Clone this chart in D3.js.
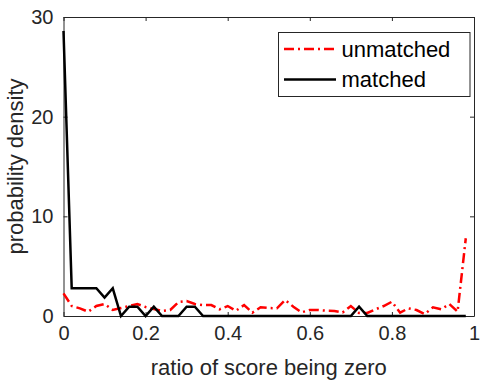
<!DOCTYPE html>
<html>
<head>
<meta charset="utf-8">
<script src="https://cdn.jsdelivr.net/npm/d3@7"></script>
<style>
  body { margin: 0; background: #fff; }
  text { font-family: "Liberation Sans", Arial, sans-serif; fill: #262626; }
</style>
</head>
<body>
<div id="chart"></div>
<script>
// bin positions (ratio of score being zero)
const bins = d3.range(50).map((i) => +(i * 0.02).toFixed(2));
// unmatched density per bin
const unmatched = [2.27, 1.0, 0.77, 0.43, 1.0, 1.2, 0.6, 0.8, 1.0, 1.2,
  0.9, 0.7, 0.5, 0.6, 1.4, 1.5, 1.2, 1.1, 1.1, 0.67,
  1.0, 0.53, 1.1, 0.33, 0.87, 0.8, 0.77, 1.6, 0.93, 0.37,
  0.6, 0.6, 0.53, 0.5, 0.35, 1.0, 0.3, 0.3, 0.67, 1.0,
  1.43, 0.33, 0.77, 0.6, 0.2, 0.87, 0.67, 1.2, 0.43, 7.8];
// matched density per bin
const matched = [28.6, 2.78, 2.78, 2.78, 2.78, 1.84, 2.78, 0, 0.93, 0.93,
  0, 0.93, 0, 0, 0, 0.93, 0.93, 0, 0, 0,
  0, 0, 0, 0, 0, 0, 0, 0, 0, 0,
  0, 0, 0, 0, 0, 0, 0.93, 0, 0, 0,
  0, 0, 0, 0, 0, 0, 0, 0, 0, 0];
const xTicks = [0, 0.2, 0.4, 0.6, 0.8, 1];
const yTicks = [0, 10, 20, 30];
const seriesNames = ["unmatched", "matched"];

const W = 489, H = 386;
const mLeft = 63.5, mRight = 474, mTop = 17, mBottom = 316;

const svg = d3.select("#chart").append("svg")
  .attr("width", W).attr("height", H);

const x = d3.scaleLinear().domain([0, 1]).range([mLeft, mRight]);
const y = d3.scaleLinear().domain([0, 30]).range([mBottom, mTop]);

const axisColor = "#262626";
const tickLen = 4;

// bottom axis
const gx = svg.append("g").attr("transform", `translate(0,${mBottom})`)
  .call(d3.axisBottom(x).tickValues(xTicks).tickFormat((d) => d)
    .tickSizeInner(-tickLen).tickSizeOuter(0).tickPadding(10));
gx.selectAll("text").style("font-size", "20px").attr("dy", "0.71em");

// top axis (ticks only)
svg.append("g").attr("transform", `translate(0,${mTop})`)
  .call(d3.axisTop(x).tickValues(xTicks).tickFormat("")
    .tickSizeInner(-tickLen).tickSizeOuter(0));

// left axis
const gy = svg.append("g").attr("transform", `translate(${mLeft},0)`)
  .call(d3.axisLeft(y).tickValues(yTicks)
    .tickSizeInner(-tickLen).tickSizeOuter(0).tickPadding(10));
gy.selectAll("text").style("font-size", "20px");

// right axis (ticks only)
svg.append("g").attr("transform", `translate(${mRight},0)`)
  .call(d3.axisRight(y).tickValues(yTicks).tickFormat("")
    .tickSizeInner(-tickLen).tickSizeOuter(0));

svg.selectAll(".domain").attr("stroke", axisColor).attr("stroke-width", 1);
svg.selectAll(".tick line").attr("stroke", axisColor).attr("stroke-width", 1);
svg.selectAll(".tick text").style("fill", axisColor)
  .style("font-family", "'Liberation Sans', Arial, sans-serif");

// lines
const line = (vals) => d3.line()
  .x((d, i) => x(bins[i]))
  .y((d) => y(d))(vals);

svg.append("path")
  .attr("d", line(unmatched))
  .attr("fill", "none")
  .attr("stroke", "#ff0000")
  .attr("stroke-width", 2.5)
  .attr("stroke-dasharray", "10,4,2,4");

svg.append("path")
  .attr("d", line(matched))
  .attr("fill", "none")
  .attr("stroke", "#000")
  .attr("stroke-width", 2.5)
  .attr("stroke-linejoin", "miter");

// axis labels
svg.append("text")
  .attr("x", (mLeft + mRight) / 2).attr("y", 375)
  .attr("text-anchor", "middle")
  .style("font-size", "22px")
  .text("ratio of score being zero");

svg.append("text")
  .attr("transform", `translate(23,${(mTop + mBottom) / 2}) rotate(-90)`)
  .attr("text-anchor", "middle")
  .style("font-size", "22px")
  .text("probability density");

// legend
const lg = svg.append("g");
lg.append("rect")
  .attr("x", 278.5).attr("y", 32.5).attr("width", 191.5).attr("height", 64)
  .attr("fill", "#fff").attr("stroke", axisColor).attr("stroke-width", 1);

const legendRows = [
  { name: seriesNames[0], color: "#ff0000", dash: "10,4,2,4", y: 49 },
  { name: seriesNames[1], color: "#000", dash: null, y: 79.5 },
];
legendRows.forEach((r) => {
  lg.append("line")
    .attr("x1", 284).attr("x2", 336).attr("y1", r.y).attr("y2", r.y)
    .attr("stroke", r.color).attr("stroke-width", 2.5)
    .attr("stroke-dasharray", r.dash);
  lg.append("text")
    .attr("x", 341.5).attr("y", r.y + 7.5)
    .style("font-size", "22px")
    .style("fill", "#000")
    .text(r.name);
});
</script>
</body>
</html>
